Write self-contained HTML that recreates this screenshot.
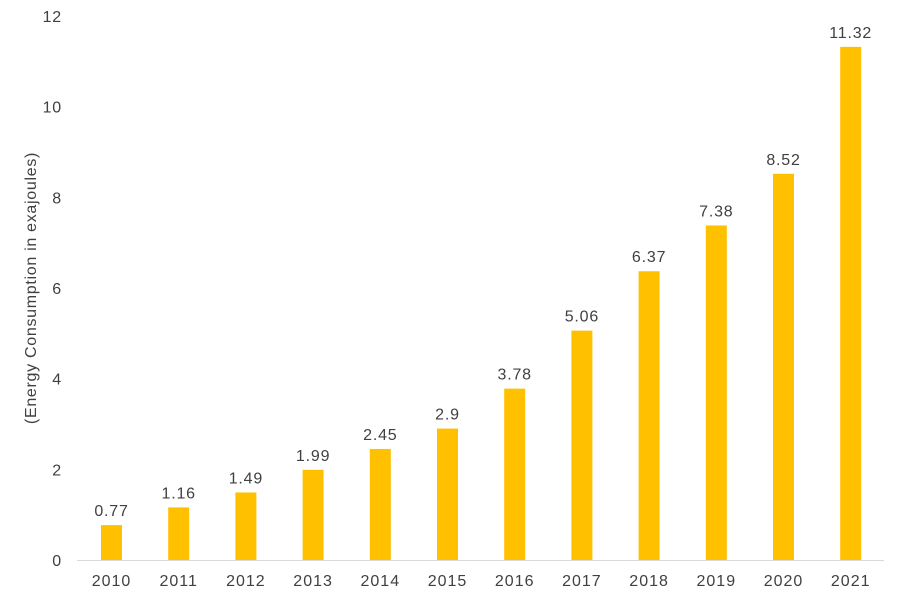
<!DOCTYPE html>
<html><head><meta charset="utf-8"><style>
body{margin:0;background:#fff;}
svg text{font-family:"Liberation Sans",sans-serif;fill:#404040;}
</style></head><body>
<svg id="chart" width="900" height="599" xmlns="http://www.w3.org/2000/svg">
<text transform="translate(36,288) rotate(-90)" text-anchor="middle" font-size="16" letter-spacing="0.7">(Energy Consumption in exajoules)</text>
<g id="yticks"></g><g id="bars"></g><g id="xticks"></g>
<line x1="77" y1="560.5" x2="884" y2="560.5" stroke="#d9d9d9" stroke-width="1"/>
</svg>
<script>
const categories=["2010","2011","2012","2013","2014","2015","2016","2017","2018","2019","2020","2021"];
const values=[0.77,1.16,1.49,1.99,2.45,2.9,3.78,5.06,6.37,7.38,8.52,11.32];
const valueLabels=["0.77","1.16","1.49","1.99","2.45","2.9","3.78","5.06","6.37","7.38","8.52","11.32"];
const yTicks=[0,2,4,6,8,10,12];
const NS="http://www.w3.org/2000/svg";
const y=v=>560-v*45.33;
const x=i=>111.5+i*67.2;
function mk(t,a,txt){const e=document.createElementNS(NS,t);for(const k in a)e.setAttribute(k,a[k]);if(txt!==undefined)e.textContent=txt;return e;}
const yt=document.getElementById('yticks'),bg=document.getElementById('bars'),xt=document.getElementById('xticks');
yTicks.forEach(v=>{const t=mk('text',{x:62,y:y(v)+6,'text-anchor':'end','font-size':'16','letter-spacing':'0.8'},String(v));


yt.appendChild(t);});
categories.forEach((c,i)=>{
const r=mk('rect',{x:x(i)-10.5,y:y(values[i]),width:21,height:560-y(values[i]),fill:'#FFC000'});


bg.appendChild(r);
const l=mk('text',{x:x(i),y:y(values[i])-9,'text-anchor':'middle','font-size':'16','letter-spacing':'0.8'},valueLabels[i]);


bg.appendChild(l);
const t=mk('text',{x:x(i),y:586,'text-anchor':'middle','font-size':'16','letter-spacing':'1'},c);


xt.appendChild(t);
});
</script>
</body></html>
